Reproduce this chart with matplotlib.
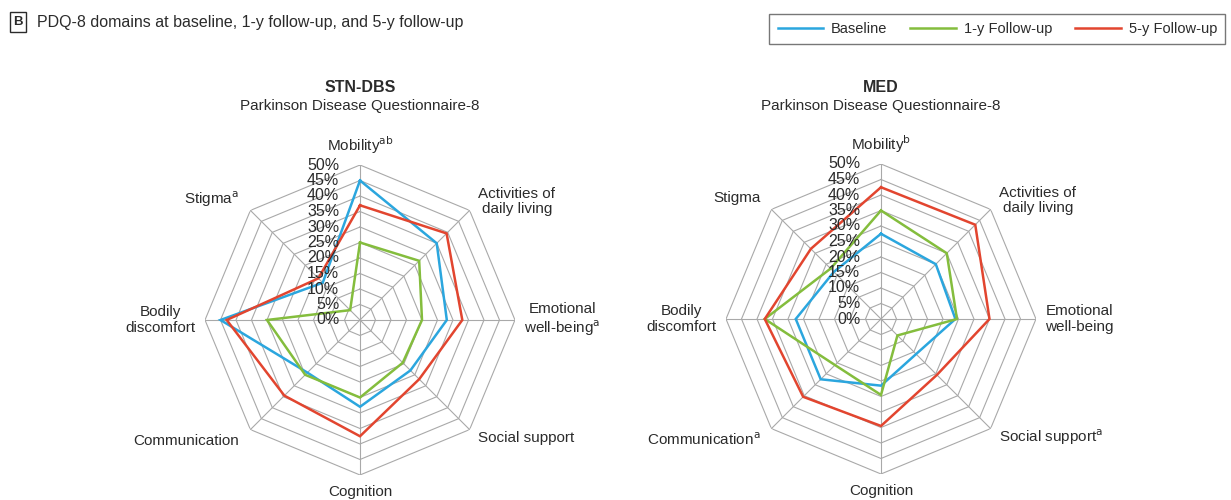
import numpy as np
import matplotlib
matplotlib.use("Agg")
import matplotlib.pyplot as plt
from matplotlib.patches import Rectangle

plt.rcParams['font.family'] = ['Liberation Sans Narrow', 'Liberation Sans', 'DejaVu Sans']
plt.rcParams['mathtext.fontset'] = 'custom'
plt.rcParams['mathtext.rm'] = 'Liberation Sans Narrow'

# ---------------- data ----------------
categories_stn = ["Mobility$^{\\mathrm{ab}}$", "Activities of\ndaily living", "Emotional\nwell-being$^{\\mathrm{a}}$",
                  "Social support", "Cognition", "Communication", "Bodily\ndiscomfort", "Stigma$^{\\mathrm{a}}$"]
categories_med = ["Mobility$^{\\mathrm{b}}$", "Activities of\ndaily living", "Emotional\nwell-being",
                  "Social support$^{\\mathrm{a}}$", "Cognition", "Communication$^{\\mathrm{a}}$", "Bodily\ndiscomfort", "Stigma"]

stn_baseline = [45, 35, 28, 23, 28, 24, 45, 17]
stn_1y = [25, 27, 20, 19.5, 25, 25, 30, 4.5]
stn_5y = [37, 39.5, 33, 27, 37.5, 34.5, 43, 19]

med_baseline = [27.5, 25, 24, 16, 21.5, 27.5, 27.5, 21.5]
med_1y = [35, 30, 24.5, 7.5, 24.5, 21, 37.5, 23]
med_5y = [42.5, 43, 35, 25.5, 34.5, 35.5, 37.5, 32]

ring_values = [0, 5, 10, 15, 20, 25, 30, 35, 40, 45, 50]
ring_labels = ["0%", "5%", "10%", "15%", "20%", "25%", "30%", "35%", "40%", "45%", "50%"]

series_names = ["Baseline", "1-y Follow-up", "5-y Follow-up"]
series_colors = ["#2ba6de", "#84bd3d", "#e2452f"]

GRID = "#a9a9a9"
TXT = "#2b2b2b"

W, H = 1231, 500
fig = plt.figure(figsize=(W / 100, H / 100), dpi=100)

n = len(categories_stn)
angles = np.linspace(0, 2 * np.pi, n, endpoint=False)
closed_angles = np.append(angles, angles[0])


def radar(cx, cy, rad, cats, base, y1, y5, title):
    ax = fig.add_axes([(cx - rad) / W, (H - cy - rad) / H, 2 * rad / W, 2 * rad / H],
                      projection='polar')
    ax.set_theta_zero_location('N')
    ax.set_theta_direction(-1)
    ax.set_ylim(0, 50)
    ax.grid(False)
    ax.spines['polar'].set_visible(False)
    ax.set_xticks([])
    ax.set_yticks([])
    ax.patch.set_alpha(0)
    # rings
    for rv in ring_values[1:]:
        ax.plot(closed_angles, [rv] * (n + 1), color=GRID, lw=0.8, zorder=1)
    # spokes
    for a in angles:
        ax.plot([a, a], [0, 50], color=GRID, lw=0.8, zorder=1)
    # series
    order = [(y5, 2), (base, 0), (y1, 1)]
    for vals, k in order:
        v = list(vals) + [vals[0]]
        ax.plot(closed_angles, v, color=series_colors[k], lw=1.8, zorder=3 + k,
                solid_joinstyle='miter')
    # tick labels
    for rv, lab in zip(ring_values, ring_labels):
        ax.annotate(lab, xy=(0, rv), xytext=(-15, 0), textcoords='offset points',
                    ha='right', va='center', fontsize=11.5, color=TXT, zorder=6)
    # category labels
    specs = [
        (56.5, 'center', 'center'),
        (54, 'left', 'center'),
        (53, 'left', 'center'),
        (54, 'left', 'center'),
        (55.5, 'center', 'center'),
        (55, 'right', 'center'),
        (53, 'right', 'center'),
        (55, 'right', 'center'),
    ]
    for a, lab, (r, ha, va) in zip(angles, cats, specs):
        ax.text(a, r, lab, ha=ha, va=va, fontsize=11, color=TXT,
                multialignment='center', linespacing=1.15)
    fig.text(cx / W, 1 - 88 / H, title, ha='center', va='center', fontsize=11.5,
             fontweight='bold', color=TXT)
    fig.text(cx / W, 1 - 106 / H, "Parkinson Disease Questionnaire-8", ha='center',
             va='center', fontsize=11, color=TXT)
    return ax


radar(360, 320, 155, categories_stn, stn_baseline, stn_1y, stn_5y, "STN-DBS")
radar(881, 319, 155, categories_med, med_baseline, med_1y, med_5y, "MED")

# header
fig.patches.append(Rectangle((10 / W, 1 - 32 / H), 16 / W, 20 / H, transform=fig.transFigure,
                             fill=False, edgecolor=TXT, lw=1.0))
fig.text(18 / W, 1 - 22 / H, "B", ha='center', va='center', fontsize=9.5, fontweight='bold', color=TXT)
fig.text(37 / W, 1 - 22 / H, "PDQ-8 domains at baseline, 1-y follow-up, and 5-y follow-up",
         ha='left', va='center', fontsize=11.5, color=TXT)

# legend
handles = [plt.Line2D([], [], color=c, lw=1.8) for c in series_colors]
leg = fig.legend(handles, series_names, ncol=3, loc='upper right',
                 bbox_to_anchor=(1225 / W, 1 - 14 / H), frameon=True, fancybox=False,
                 fontsize=10.5, handlelength=3.1, handletextpad=0.55, columnspacing=1.6,
                 borderpad=0.55, borderaxespad=0)
leg.get_frame().set_edgecolor("#555555")
leg.get_frame().set_linewidth(1.0)
for t in leg.get_texts():
    t.set_color(TXT)

fig.savefig("out.png", dpi=100)
